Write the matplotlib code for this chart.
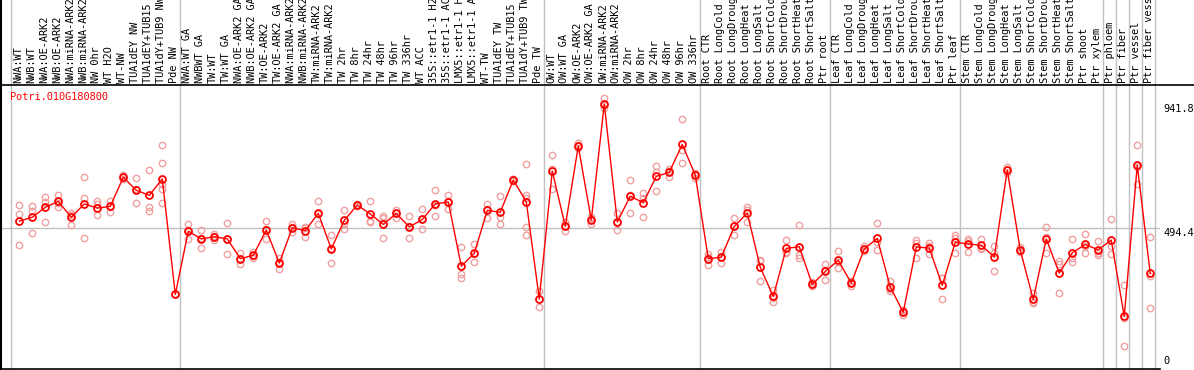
import matplotlib
matplotlib.use('Agg')
import matplotlib.pyplot as plt
from matplotlib.lines import Line2D
from matplotlib.transforms import blended_transform_factory

gene = 'Potri.010G180800'

labels = [
    'NWA:WT', 'NWB:WT', 'NWA:OE-ARK2', 'NWB:OE-ARK2', 'NWA:miRNA-ARK2', 'NWB:miRNA-ARK2',
    'NW 0hr', 'WT H2O', 'WT-NW', 'TUA1dEY NW', 'TUA1dEY+TUB15 NW', 'TUA1dY+TUB9 NW', 'Pde NW',
    'NWA:WT GA', 'NWBWT GA', 'TW:WT', 'TW:WT GA', 'NWA:OE-ARK2 GA', 'NWB:OE-ARK2 GA',
    'TW:OE-ARK2', 'TW:OE-ARK2 GA', 'NWA:miRNA-ARK2 GA', 'NWB:miRNA-ARK2 GA', 'TW:miRNA-ARK2',
    'TW:miRNA-ARK2 GA', 'TW 2hr', 'TW 8hr', 'TW 24hr', 'TW 48hr', 'TW 96hr', 'TW 336hr',
    'WT ACC', '35S::etr1-1 H2O', '35S::etr1-1 ACC', 'LMX5::etr1-1 H2O', 'LMX5::etr1-1 ACC',
    'WT-TW', 'TUA1dEY TW', 'TUA1dEY+TUB15 TW', 'TUA1dY+TUB9 TW', 'Pde TW',
    'OW:WT', 'OW:WT GA', 'OW:OE-ARK2', 'OW:OE-ARK2 GA', 'OW:miRNA-ARK2', 'OW:miRNA-ARK2 GA',
    'OW 2hr', 'OW 8hr', 'OW 24hr', 'OW 48hr', 'OW 96hr', 'OW 336hr',
    'Root CTR', 'Root LongCold', 'Root LongDrought', 'Root LongHeat', 'Root LongSalt',
    'Root ShortCold', 'Root ShortDrought', 'Root ShortHeat', 'Root ShortSalt', 'Ptr root',
    'Leaf CTR', 'Leaf LongCold', 'Leaf LongDrought', 'Leaf LongHeat', 'Leaf LongSalt',
    'Leaf ShortCold', 'Leaf ShortDrought', 'Leaf ShortHeat', 'Leaf ShortSalt', 'Ptr leaf',
    'Stem CTR', 'Stem LongCold', 'Stem LongDrought', 'Stem LongHeat', 'Stem LongSalt',
    'Stem ShortCold', 'Stem ShortDrought', 'Stem ShortHeat', 'Stem ShortSalt', 'Ptr shoot',
    'Ptr xylem', 'Ptr phloem', 'Ptr fiber', 'Ptr vessel', 'Ptr fiber vessel',
]

# mean expression per sample
means = [
    520, 534, 570, 591, 534, 582, 567, 573, 678, 631, 613, 672, 256,
    484, 456, 464, 456, 385, 397, 488, 369, 496, 486, 548, 420, 523, 578, 546,
    508, 548, 499, 526, 582, 589, 358, 404, 559, 552, 668, 590, 240,
    700, 502, 790, 524, 941.8, 517, 610, 586, 681, 696, 796, 686,
    385, 390, 501, 549, 354, 249, 422, 428, 292, 339,
    379, 297, 420, 458, 283, 192, 427, 423, 289, 444,
    438, 433, 391, 704, 416, 238, 456, 333, 406, 436, 417,
    452, 177, 721, 332,
]

# individual replicates
reps = [
    [578, 546, 434], [576, 558, 476], [608, 590, 517], [614, 572, 587], [550, 541, 505],
    [678, 602, 458], [594, 582, 541], [594, 572, 553], [686, 678, 670], [674, 584, 635],
    [703, 572, 558], [793, 729, 654, 634, 584], [256],
    [508, 456, 488], [488, 422, 458], [472, 452, 468], [512, 400, 456], [406, 364, 385],
    [410, 386, 395], [520, 454, 490], [386, 349, 372], [508, 482, 498], [500, 464, 494],
    [591, 508, 545], [469, 368, 423], [559, 508, 490], [582, 574, 578], [591, 520, 517],
    [540, 530, 458], [561, 532, 551], [538, 458, 501], [562, 490, 526], [631, 538, 577],
    [614, 562, 591], [426, 330, 316], [438, 372, 402], [583, 530, 564], [610, 536, 508],
    [670, 664, 670], [726, 614, 602, 498, 470], [268, 212],
    [758, 636, 706], [518, 486, 502], [802, 782, 790], [536, 508, 528], [962, 926, 938],
    [548, 487, 516], [667, 549, 614], [620, 534, 604], [718, 627, 698], [708, 680, 700],
    [888, 776, 728], [692, 676, 690],
    [392, 362, 401], [410, 368, 392], [530, 469, 504], [571, 517, 559], [380, 306, 376],
    [272, 230, 245], [452, 410, 404], [506, 398, 386], [300, 290, 286], [364, 309, 344],
    [412, 352, 373], [304, 288, 299], [429, 412, 419], [513, 416, 445], [304, 268, 277],
    [199, 182, 195], [452, 386, 443], [440, 400, 429], [315, 238, 314], [470, 404, 458],
    [450, 410, 454], [457, 423, 419], [430, 339, 404], [716, 692, 704], [426, 409, 413],
    [260, 226, 228], [498, 406, 464], [375, 260, 364], [457, 372, 389], [472, 404, 432],
    [447, 397, 407], [528, 430, 402], [290, 170, 69], [793, 654, 716], [463, 322, 206],
]

# first sample index of each tissue group (last entry closes the chart)
group_starts = [0, 13, 41, 53, 63, 73, 84, 85, 86, 87, 88]
y_marks = [941.8, 494.4, 0]

W, H = 1194, 370
mono = 'DejaVu Sans Mono'
grey = '#c0c0c0'

fig = plt.figure(figsize=(W / 100, H / 100), dpi=100)
ax = fig.add_axes([1 / W, (H - 369.3) / H, 1159 / W, 284.3 / H])
ax.set_xlim(-1.408, 87.75)
ax.set_ylim(-13.3, 1010.1)
ax.set_xticks([])
ax.set_yticks([])
for side in ['top', 'right', 'left']:
    ax.spines[side].set_visible(False)
ax.spines['bottom'].set_linewidth(1.2)

# frame lines running into the label strip
fig.add_artist(Line2D([0, 1], [(H - 85) / H] * 2, color='black', lw=1.2))
fig.add_artist(Line2D([1.2 / W] * 2, [0, 1], color='black', lw=1.5))

top = 1 + 86 / 284.3
for g in group_starts:
    ax.axvline(g - 0.64, 0, top, color=grey, lw=1, clip_on=False, zorder=0)
ax.axhline(494.4, color=grey, lw=1, zorder=0)

# replicates
for k, r in enumerate(reps):
    ax.plot([k] * len(r), r, 'o', mfc='none', mec='#f0a0a0', ms=4.6, mew=1.0, zorder=2)

# means
x = list(range(len(means)))
ax.plot(x, means, '-', color='red', lw=1.0, zorder=3)
ax.plot(x, means, 'o', mfc='none', mec='red', ms=5.0, mew=1.3, zorder=4)

# sample labels
trans = blended_transform_factory(ax.transData, ax.transAxes)
for k, lab in enumerate(labels):
    ax.text(k - 0.1, 1 + 2 / 284.3, lab, rotation=90, ha='center', va='bottom',
            transform=trans, fontsize=7.4, family=mono, clip_on=False)

ax.text(9 / 1159, (369.3 - 97) / 284.3, gene, transform=ax.transAxes, color='red',
        fontsize=7.4, family=mono, ha='left', va='center')

for v in y_marks:
    ax.text(87.98, v, f'{v:g}', ha='left', va='bottom' if v == 0 else 'top',
            fontsize=7.4, family=mono, clip_on=False)

fig.savefig('out.png', dpi=100)
